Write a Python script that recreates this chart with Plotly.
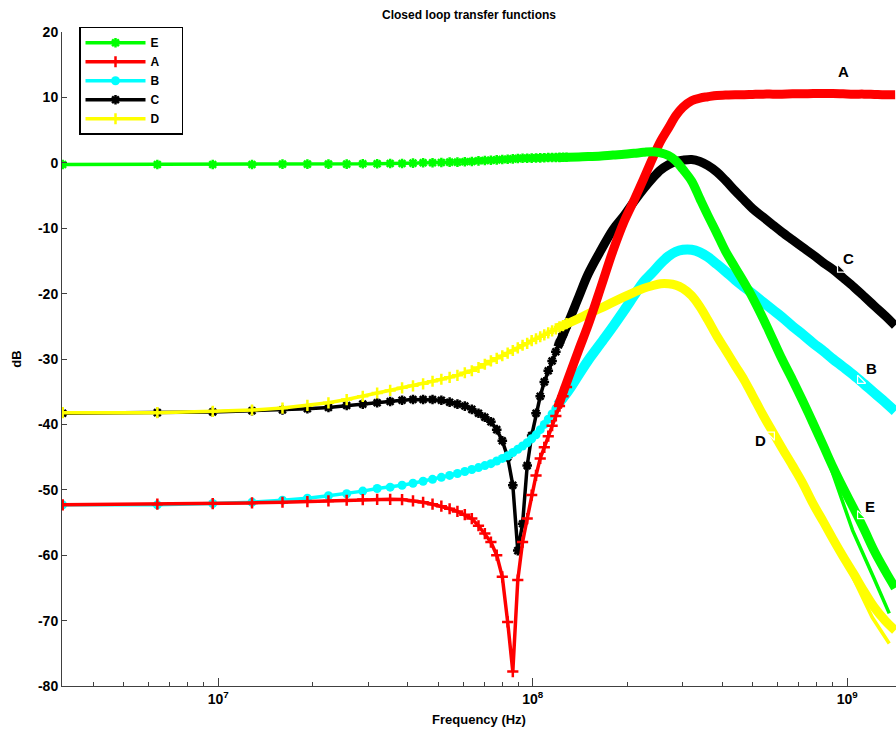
import math
import plotly.graph_objects as go

# ---------------- data ----------------
# low-frequency sample grid (MHz) - markers visible
freq_low = [3.2, 6.4, 9.6, 12.8, 16.0, 19.2, 22.4, 25.6, 28.8, 32.0,
            35.2, 38.4, 41.6, 44.8, 48.0, 51.2, 54.4, 57.6, 60.8, 64.0,
            67.2, 70.4, 73.6, 76.8, 80.0, 83.2, 86.4, 89.6, 92.8, 96.0,
            99.2, 102.4, 105.6, 108.8, 112.0, 115.2, 118.4, 121.6, 124.8, 128.0]

# high-frequency samples (MHz) - dense region, merged markers
freq_high = [120, 130, 140, 150, 165, 180, 195, 210, 225, 240, 255, 270, 285, 300,
             320, 340, 360, 385, 410, 440, 470, 500, 540, 580, 620, 670, 720, 780,
             840, 900, 970, 1050, 1130, 1220, 1320, 1420]

E_low = [-0.25, -0.25, -0.25, -0.25, -0.2, -0.2, -0.2, -0.2, -0.15, -0.15,
         -0.1, -0.1, -0.05, 0.0, 0.0, 0.05, 0.1, 0.1, 0.15, 0.2,
         0.3, 0.35, 0.4, 0.45, 0.5, 0.55, 0.6, 0.65, 0.7, 0.7,
         0.72, 0.74, 0.76, 0.78, 0.8, 0.8, 0.82, 0.83, 0.84, 0.85]
E_high = [0.82, 0.85, 0.9, 0.95, 1.05, 1.2, 1.3, 1.45, 1.6, 1.7, 1.5, 1.1, 0.3, -1.0,
          -2.8, -5.5, -8.0, -10.8, -13.5, -16.0, -18.3, -20.6, -23.8, -27.0, -30.0, -33.2, -36.3, -39.9,
          -43.3, -46.5, -49.7, -52.9, -56.0, -59.4, -62.4, -65.0]

A_low = [-52.3, -52.2, -52.1, -52.0, -51.9, -51.8, -51.7, -51.6, -51.5, -51.45,
         -51.45, -51.5, -51.7, -51.9, -52.2, -52.5, -52.9, -53.3, -53.8, -54.4,
         -55.5, -56.7, -58.0, -60.0, -63.3, -70.2, -77.8, -63.8, -58.0, -54.4,
         -50.8, -47.8, -45.2, -43.5, -41.8, -40.2, -38.7, -37.2, -35.7, -34.3]
A_high = [-37.4, -32.8, -28.6, -24.8, -18.9, -13.4, -9.0, -5.7, -2.5, 0.6, 3.3, 5.3, 7.2, 8.5,
          9.5, 9.9, 10.1, 10.3, 10.35, 10.4, 10.4, 10.45, 10.5, 10.5, 10.5, 10.55, 10.55, 10.6,
          10.6, 10.6, 10.55, 10.5, 10.5, 10.45, 10.4, 10.4]

B_low = [-52.3, -52.3, -52.1, -51.9, -51.6, -51.3, -50.9, -50.6, -50.2, -49.8,
         -49.6, -49.3, -49.0, -48.7, -48.4, -48.1, -47.8, -47.5, -47.2, -46.9,
         -46.6, -46.3, -46.0, -45.6, -45.2, -44.8, -44.3, -43.8, -43.3, -42.8,
         -42.2, -41.6, -40.8, -40.0, -39.2, -38.4, -37.6, -36.8, -36.0, -35.2]
B_high = [-37.0, -34.8, -32.4, -30.2, -27.5, -25.0, -22.6, -20.3, -18.2, -16.8, -15.4, -14.3, -13.6, -13.3,
          -13.3, -13.7, -14.4, -15.5, -16.6, -17.9, -19.0, -20.0, -21.3, -22.5, -23.6, -25.0, -26.2, -27.6,
          -28.8, -30.0, -31.2, -32.5, -33.8, -35.2, -36.6, -38.0]

C_low = [-38.3, -38.2, -38.1, -37.9, -37.8, -37.6, -37.4, -37.1, -36.9, -36.7,
         -36.5, -36.3, -36.2, -36.2, -36.2, -36.3, -36.6, -36.9, -37.2, -37.7,
         -38.3, -38.9, -39.6, -40.8, -42.5, -45.0, -49.3, -59.3, -55.2, -46.3,
         -41.7, -38.3, -35.7, -33.5, -31.8, -30.3, -28.9, -27.5, -26.2, -24.9]
C_high = [-28.2, -24.3, -20.5, -17.0, -13.3, -10.2, -8.1, -5.9, -4.0, -2.4, -1.1, -0.3, 0.2, 0.4,
          0.5, 0.2, -0.4, -1.4, -2.7, -4.3, -5.7, -7.0, -8.3, -9.5, -10.6, -11.8, -12.9, -14.1,
          -15.3, -16.3, -17.6, -19.0, -20.4, -21.9, -23.4, -24.9]

D_low = [-38.2, -38.2, -38.0, -37.8, -37.5, -37.1, -36.7, -36.2, -35.7, -35.2,
         -34.8, -34.4, -34.1, -33.8, -33.4, -33.1, -32.8, -32.5, -32.1, -31.8,
         -31.3, -30.8, -30.3, -29.9, -29.5, -29.1, -28.7, -28.3, -27.9, -27.6,
         -27.2, -26.9, -26.6, -26.3, -26.0, -25.7, -25.4, -25.1, -24.9, -24.6]
D_high = [-25.2, -24.5, -23.8, -23.1, -22.2, -21.3, -20.5, -19.8, -19.2, -18.8, -18.5, -18.5, -18.7, -19.2,
          -20.3, -22.0, -24.0, -26.5, -28.6, -31.0, -33.2, -35.6, -38.6, -41.2, -43.6, -46.3, -48.9, -52.2,
          -54.9, -57.5, -60.2, -62.9, -65.5, -68.0, -70.0, -71.5]

# secondary branches at the highest frequencies
E_branch_f = [880, 1040, 1210, 1360]
E_branch_v = [-46.2, -56.2, -63.3, -68.9]
D_branch_f = [840, 1040, 1200, 1360]
D_branch_v = [-54.9, -63.3, -69.5, -73.5]

# curve labels (MHz, dB)
label_text = ["A", "C", "B", "D", "E"]
label_f = [973, 1010, 1194, 530, 1178]
label_v = [14.0, -14.7, -31.4, -42.5, -52.5]

# small data-tip marks on the curves next to the labels
tip_names = ["C", "B", "D", "E"]
tip_f = [950, 1100, 575, 1100]
tip_v = [-16.3, -33.3, -41.6, -54.0]
tip_colors = ["#000000", "#00FFFF", "#FFFF00", "#00FF00"]
tip_symbols = ["triangle-sw", "triangle-sw", "triangle-ne", "triangle-sw"]

x_tickvals = [1e7, 1e8, 1e9]
x_ticktext = ["<b>10<sup>7</sup></b>", "<b>10<sup>8</sup></b>", "<b>10<sup>9</sup></b>"]
y_tickvals = [20, 10, 0, -10, -20, -30, -40, -50, -60, -70, -80]
y_ticktext = ["<b>%d</b>" % v for v in y_tickvals]

series = [
    # name, color, symbol, low, high, rank
    ("C", "#000000", "asterisk-open", C_low, C_high, 4),
    ("B", "#00FFFF", "circle", B_low, B_high, 3),
    ("D", "#FFFF00", "cross-thin-open", D_low, D_high, 5),
    ("A", "#FF0000", "cross-thin-open", A_low, A_high, 2),
    ("E", "#00FF00", "asterisk-open", E_low, E_high, 1),
]

FONT = "Liberation Sans"
NBSP = "\u00a0"

fig = go.Figure()
hz = lambda arr: [v * 1e6 for v in arr]

for name, col, sym, lo, hi, rank in series:
    if sym == "circle":
        mk = dict(symbol=sym, size=9, color=col, line=dict(width=0))
    else:
        mk = dict(symbol=sym, size=8, color=col, line=dict(width=2.5, color=col))
    fig.add_trace(go.Scatter(
        x=hz(freq_high), y=hi, mode="lines", line_shape="spline",
        line=dict(color=col, width=10 if sym == "circle" else 9),
        showlegend=False, hoverinfo="skip"))
    fig.add_trace(go.Scatter(
        x=hz(freq_low), y=lo, mode="lines+markers",
        name="<b>%s</b>%s" % (name, NBSP * 5),
        line=dict(color=col, width=3.5), marker=mk, legendrank=rank))
    if name == "E":
        fig.add_trace(go.Scatter(x=hz(E_branch_f), y=E_branch_v, mode="lines",
                                 line=dict(color=col, width=3.5), showlegend=False))
    if name == "D":
        fig.add_trace(go.Scatter(x=hz(D_branch_f), y=D_branch_v, mode="lines",
                                 line=dict(color=col, width=3.5), showlegend=False))

fig.add_trace(go.Scatter(
    x=hz(tip_f), y=tip_v, mode="markers", showlegend=False, hoverinfo="skip",
    marker=dict(symbol=tip_symbols, size=9, color=tip_colors,
                line=dict(color="white", width=1.2))))

for t, f, v in zip(label_text, label_f, label_v):
    fig.add_annotation(x=math.log10(f * 1e6), y=v, text="<b>%s</b>" % t, showarrow=False,
                       xref="x", yref="y", font=dict(family=FONT, size=15, color="black"))

fig.update_layout(
    width=896, height=735,
    margin=dict(l=62, r=0, t=32, b=49),
    paper_bgcolor="white", plot_bgcolor="white",
    font=dict(family=FONT, color="black"),
    title=dict(text="<b>Closed loop transfer functions</b>", x=469 / 896, xanchor="center",
               y=1 - 15 / 735, yanchor="middle", font=dict(family=FONT, size=12)),
    legend=dict(x=(79 - 62) / 834, y=1.008, xanchor="left", yanchor="top",
                bordercolor="black", borderwidth=1.5, bgcolor="white",
                font=dict(family=FONT, size=12), itemwidth=60,
                tracegroupgap=0),
    showlegend=True,
)
fig.update_xaxes(
    type="log", range=[6.503, 9.155],
    tickvals=x_tickvals, ticktext=x_ticktext,
    ticks="inside", ticklen=8, tickcolor="#404040", tickwidth=1,
    showgrid=False, zeroline=False,
    showline=True, linecolor="#404040", linewidth=1, mirror=False,
    tickfont=dict(family=FONT, size=14),
    minor=dict(ticks="inside", ticklen=4, tickcolor="#404040",
               tickvals=[4e6, 5e6, 6e6, 7e6, 8e6, 9e6,
                         2e7, 3e7, 4e7, 5e7, 6e7, 7e7, 8e7, 9e7,
                         2e8, 3e8, 4e8, 5e8, 6e8, 7e8, 8e8, 9e8], showgrid=False),
    title=dict(text="<b>Frequency (Hz)</b>", font=dict(family=FONT, size=13), standoff=9),
)
fig.update_yaxes(
    range=[-80, 20], tickvals=y_tickvals, ticktext=y_ticktext,
    ticks="inside", ticklen=5, tickcolor="#404040",
    showgrid=False, zeroline=False,
    showline=True, linecolor="#404040", linewidth=1,
    tickfont=dict(family=FONT, size=14),
    title=dict(text="<b>dB</b>", font=dict(family=FONT, size=13), standoff=13),
)

fig.write_html("out.html")
